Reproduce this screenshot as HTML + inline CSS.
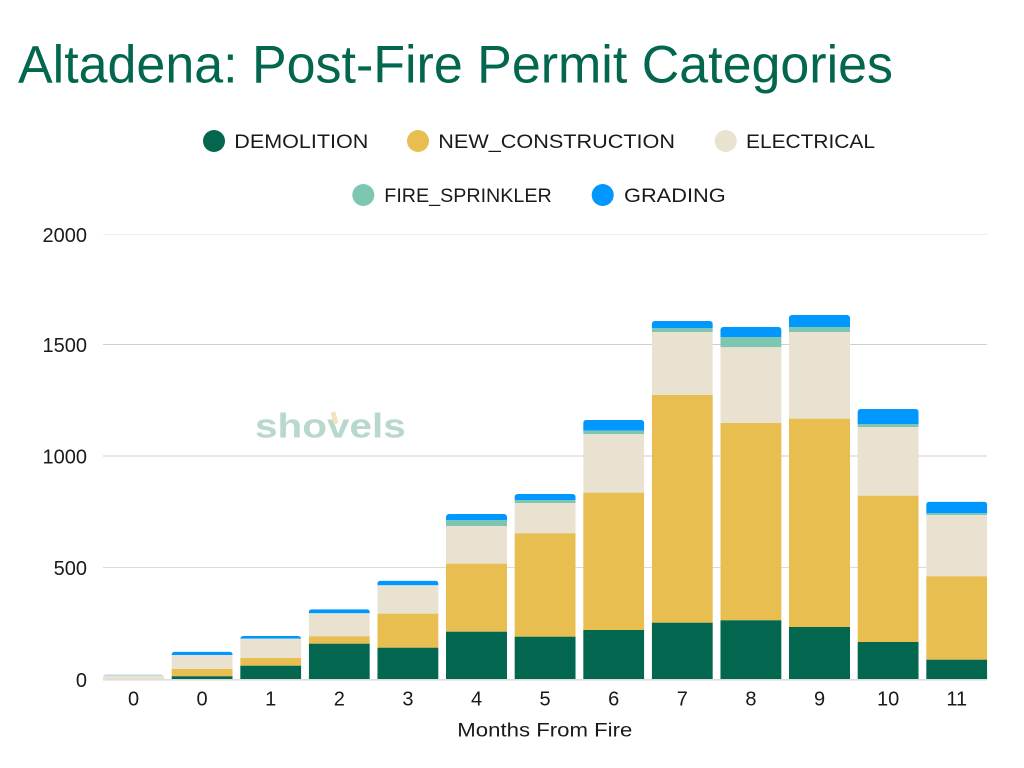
<!DOCTYPE html>
<html>
<head>
<meta charset="utf-8">
<style>
html,body{margin:0;padding:0;background:#fff;}
svg{display:block;}
text{font-family:"Liberation Sans",sans-serif;}
</style>
</head>
<body>
<svg width="1024" height="768" viewBox="0 0 1024 768" xmlns="http://www.w3.org/2000/svg">
<rect width="1024" height="768" fill="#fff"/>
<!-- Title -->
<text x="18" y="82.5" font-size="53" fill="#03664E" textLength="875" lengthAdjust="spacingAndGlyphs">Altadena: Post-Fire Permit Categories</text>

<!-- Legend -->
<g font-size="19.5" fill="#1a1a1a">
<circle cx="214" cy="141" r="11" fill="#03664E"/>
<text x="234.3" y="148" textLength="134" lengthAdjust="spacingAndGlyphs">DEMOLITION</text>
<circle cx="418" cy="141" r="11" fill="#E8BE50"/>
<text x="438.3" y="148" textLength="236.7" lengthAdjust="spacingAndGlyphs">NEW_CONSTRUCTION</text>
<circle cx="725.7" cy="141" r="11" fill="#E9E2D0"/>
<text x="746" y="148" textLength="129" lengthAdjust="spacingAndGlyphs">ELECTRICAL</text>
<circle cx="363.3" cy="195" r="11" fill="#7DC7B2"/>
<text x="384.3" y="202" textLength="167.4" lengthAdjust="spacingAndGlyphs">FIRE_SPRINKLER</text>
<circle cx="602.7" cy="195" r="11" fill="#0098FF"/>
<text x="624" y="202" textLength="101.7" lengthAdjust="spacingAndGlyphs">GRADING</text>
</g>

<!-- Gridlines -->
<g stroke-width="1">
<line x1="103" y1="234.5" x2="987" y2="234.5" stroke="#eeeeee"/>
<line x1="103" y1="344.5" x2="987" y2="344.5" stroke="#cfcfcf"/>
<line x1="103" y1="456" x2="987" y2="456" stroke="#cfcfcf"/>
<line x1="103" y1="567.5" x2="987" y2="567.5" stroke="#dcdcdc"/>
</g>

<!-- Y labels -->
<g font-size="20" fill="#1a1a1a" text-anchor="end">
<text x="87" y="242">2000</text>
<text x="87" y="352">1500</text>
<text x="87" y="463.5">1000</text>
<text x="87" y="575">500</text>
<text x="87" y="687">0</text>
</g>

<!-- Watermark -->
<g>
<text x="255" y="437.7" font-size="34" font-weight="bold" fill="#B8D7CD" textLength="150.7" lengthAdjust="spacingAndGlyphs">shovels</text>
<rect x="332" y="412" width="5" height="12" fill="#F0E3BF" transform="rotate(-15 334.5 418)"/>
</g>

<defs>
<clipPath id="c0"><rect x="103" y="674.5" width="61" height="20" rx="3"/></clipPath>
<clipPath id="c1"><rect x="171.6" y="651.7" width="61" height="40" rx="3"/></clipPath>
<clipPath id="c2"><rect x="240.2" y="636" width="61" height="60" rx="3"/></clipPath>
<clipPath id="c3"><rect x="308.8" y="609.3" width="61" height="80" rx="3"/></clipPath>
<clipPath id="c4"><rect x="377.4" y="580.7" width="61" height="110" rx="3"/></clipPath>
<clipPath id="c5"><rect x="446" y="514" width="61" height="180" rx="3"/></clipPath>
<clipPath id="c6"><rect x="514.6" y="494" width="61" height="200" rx="3"/></clipPath>
<clipPath id="c7"><rect x="583.2" y="420" width="61" height="270" rx="3"/></clipPath>
<clipPath id="c8"><rect x="651.8" y="321" width="61" height="370" rx="3"/></clipPath>
<clipPath id="c9"><rect x="720.4" y="327" width="61" height="370" rx="3"/></clipPath>
<clipPath id="c10"><rect x="789" y="315" width="61" height="370" rx="3"/></clipPath>
<clipPath id="c11"><rect x="857.6" y="409" width="61" height="290" rx="3"/></clipPath>
<clipPath id="c12"><rect x="926.2" y="501.7" width="61" height="190" rx="3"/></clipPath>
</defs>

<!-- Bars -->
<g clip-path="url(#c0)">
<rect x="103" y="674.5" width="61" height="1" fill="#A8D4F0"/>
<rect x="103" y="675.5" width="61" height="3.5" fill="#E9E2D0"/>
</g>
<g clip-path="url(#c1)">
<rect x="171.6" y="651.7" width="61" height="3.3" fill="#0098FF"/>
<rect x="171.6" y="655" width="61" height="14" fill="#E9E2D0"/>
<rect x="171.6" y="669" width="61" height="7.3" fill="#E8BE50"/>
<rect x="171.6" y="676.3" width="61" height="2.7" fill="#03664E"/>
</g>
<g clip-path="url(#c2)">
<rect x="240.2" y="636" width="61" height="2.7" fill="#0098FF"/>
<rect x="240.2" y="638.7" width="61" height="19.3" fill="#E9E2D0"/>
<rect x="240.2" y="658" width="61" height="7.7" fill="#E8BE50"/>
<rect x="240.2" y="665.7" width="61" height="13.3" fill="#03664E"/>
</g>
<g clip-path="url(#c3)">
<rect x="308.8" y="609.3" width="61" height="4" fill="#0098FF"/>
<rect x="308.8" y="613.3" width="61" height="23" fill="#E9E2D0"/>
<rect x="308.8" y="636.3" width="61" height="7.4" fill="#E8BE50"/>
<rect x="308.8" y="643.7" width="61" height="35.3" fill="#03664E"/>
</g>
<g clip-path="url(#c4)">
<rect x="377.4" y="580.7" width="61" height="4.6" fill="#0098FF"/>
<rect x="377.4" y="585.3" width="61" height="28.4" fill="#E9E2D0"/>
<rect x="377.4" y="613.7" width="61" height="34" fill="#E8BE50"/>
<rect x="377.4" y="647.7" width="61" height="31.3" fill="#03664E"/>
</g>
<g clip-path="url(#c5)">
<rect x="446" y="514" width="61" height="6" fill="#0098FF"/>
<rect x="446" y="520" width="61" height="6" fill="#7DC7B2"/>
<rect x="446" y="526" width="61" height="37.7" fill="#E9E2D0"/>
<rect x="446" y="563.7" width="61" height="68" fill="#E8BE50"/>
<rect x="446" y="631.7" width="61" height="47.3" fill="#03664E"/>
</g>
<g clip-path="url(#c6)">
<rect x="514.6" y="494" width="61" height="6" fill="#0098FF"/>
<rect x="514.6" y="500" width="61" height="3" fill="#7DC7B2"/>
<rect x="514.6" y="503" width="61" height="30.3" fill="#E9E2D0"/>
<rect x="514.6" y="533.3" width="61" height="103.4" fill="#E8BE50"/>
<rect x="514.6" y="636.7" width="61" height="42.3" fill="#03664E"/>
</g>
<g clip-path="url(#c7)">
<rect x="583.2" y="420" width="61" height="10.7" fill="#0098FF"/>
<rect x="583.2" y="430.7" width="61" height="3.3" fill="#7DC7B2"/>
<rect x="583.2" y="434" width="61" height="58.7" fill="#E9E2D0"/>
<rect x="583.2" y="492.7" width="61" height="137.3" fill="#E8BE50"/>
<rect x="583.2" y="630" width="61" height="49" fill="#03664E"/>
</g>
<g clip-path="url(#c8)">
<rect x="651.8" y="321" width="61" height="7" fill="#0098FF"/>
<rect x="651.8" y="328" width="61" height="4" fill="#7DC7B2"/>
<rect x="651.8" y="332" width="61" height="63" fill="#E9E2D0"/>
<rect x="651.8" y="395" width="61" height="227.7" fill="#E8BE50"/>
<rect x="651.8" y="622.7" width="61" height="56.3" fill="#03664E"/>
</g>
<g clip-path="url(#c9)">
<rect x="720.4" y="327" width="61" height="10" fill="#0098FF"/>
<rect x="720.4" y="337" width="61" height="10.3" fill="#7DC7B2"/>
<rect x="720.4" y="347.3" width="61" height="75.7" fill="#E9E2D0"/>
<rect x="720.4" y="423" width="61" height="197.3" fill="#E8BE50"/>
<rect x="720.4" y="620.3" width="61" height="58.7" fill="#03664E"/>
</g>
<g clip-path="url(#c10)">
<rect x="789" y="315" width="61" height="12" fill="#0098FF"/>
<rect x="789" y="327" width="61" height="5" fill="#7DC7B2"/>
<rect x="789" y="332" width="61" height="86.7" fill="#E9E2D0"/>
<rect x="789" y="418.7" width="61" height="208.3" fill="#E8BE50"/>
<rect x="789" y="627" width="61" height="52" fill="#03664E"/>
</g>
<g clip-path="url(#c11)">
<rect x="857.6" y="409" width="61" height="15" fill="#0098FF"/>
<rect x="857.6" y="424" width="61" height="3" fill="#7DC7B2"/>
<rect x="857.6" y="427" width="61" height="68.7" fill="#E9E2D0"/>
<rect x="857.6" y="495.7" width="61" height="146.3" fill="#E8BE50"/>
<rect x="857.6" y="642" width="61" height="37" fill="#03664E"/>
</g>
<g clip-path="url(#c12)">
<rect x="926.2" y="501.7" width="61" height="11.6" fill="#0098FF"/>
<rect x="926.2" y="513.3" width="61" height="1.7" fill="#7DC7B2"/>
<rect x="926.2" y="515" width="61" height="61.3" fill="#E9E2D0"/>
<rect x="926.2" y="576.3" width="61" height="83.4" fill="#E8BE50"/>
<rect x="926.2" y="659.7" width="61" height="19.3" fill="#03664E"/>
</g>

<!-- Baseline -->
<line x1="103" y1="679.8" x2="987" y2="679.8" stroke="#dddddd" stroke-width="1.6"/>

<!-- X labels -->
<g font-size="20" fill="#1a1a1a" text-anchor="middle">
<text x="133.5" y="705.3">0</text>
<text x="202.1" y="705.3">0</text>
<text x="270.7" y="705.3">1</text>
<text x="339.3" y="705.3">2</text>
<text x="407.9" y="705.3">3</text>
<text x="476.5" y="705.3">4</text>
<text x="545.1" y="705.3">5</text>
<text x="613.7" y="705.3">6</text>
<text x="682.3" y="705.3">7</text>
<text x="750.9" y="705.3">8</text>
<text x="819.5" y="705.3">9</text>
<text x="888.1" y="705.3">10</text>
<text x="956.7" y="705.3">11</text>
</g>
<text x="457.3" y="736.7" font-size="19.5" fill="#1a1a1a" textLength="175" lengthAdjust="spacingAndGlyphs">Months From Fire</text>
</svg>
</body>
</html>
